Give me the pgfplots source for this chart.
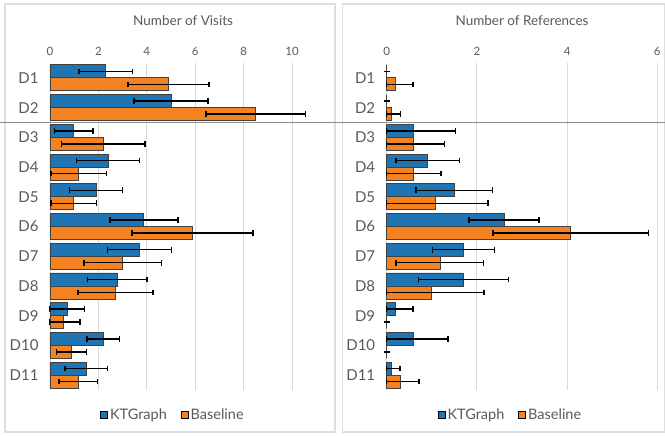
\documentclass[border=0pt]{standalone}
\usepackage{pgfplots}
\pgfplotsset{compat=1.18}
\usepackage{pgfplotstable}
\usepackage{fontspec}
\setmainfont{Lato}
\definecolor{ktblue}{RGB}{31,117,180}
\definecolor{blorange}{RGB}{245,130,32}
\definecolor{txtgray}{RGB}{89,89,89}
\definecolor{gridgray}{RGB}{217,217,217}
\definecolor{framegray}{RGB}{222,222,222}
\definecolor{sepgray}{RGB}{140,140,140}

% cat, KTGraph value, +err, -err, Baseline value, +err, -err
\pgfplotstableread{
cat kt ktep ktem bl blep blem
0 2.30 1.10 1.10 4.90 1.68 1.68
1 5.00 1.52 1.52 8.50 2.05 2.05
2 0.98 0.79 0.79 2.20 1.72 1.72
3 2.40 1.30 1.30 1.17 1.17 1.13
4 1.90 1.10 1.10 0.98 0.95 0.94
5 3.88 1.40 1.40 5.88 2.50 2.50
6 3.70 1.33 1.33 3.00 1.60 1.60
7 2.78 1.23 1.23 2.70 1.55 1.55
8 0.70 0.73 0.73 0.56 0.68 0.58
9 2.20 0.68 0.68 0.88 0.62 0.62
10 1.50 0.87 0.87 1.17 0.80 0.80
}\visits

\pgfplotstableread{
cat kt ktep ktem bl blep blem
0 0.00 0.00 0.00 0.20 0.38 0.20
1 0.00 0.00 0.00 0.10 0.21 0.10
2 0.60 0.93 0.60 0.60 0.68 0.60
3 0.91 0.70 0.70 0.60 0.60 0.60
4 1.50 0.85 0.85 1.08 1.17 1.08
5 2.60 0.78 0.78 4.08 1.72 1.72
6 1.70 0.69 0.69 1.18 0.97 0.97
7 1.70 1.00 1.00 1.00 1.16 1.00
8 0.20 0.38 0.20 0.00 0.00 0.00
9 0.60 0.76 0.60 0.00 0.00 0.00
10 0.10 0.20 0.10 0.30 0.42 0.30
}\refs

\pgfplotsset{
  panel/.style={
    scale only axis,
    anchor=south west,
    height=327pt,
    xbar,
    bar width=13pt,
    y dir=reverse,
    ymin=-0.5, ymax=10.5,
    ytick={0,...,10},
    yticklabels={D1,D2,D3,D4,D5,D6,D7,D8,D9,D10,D11},
    yticklabel style={font=\fontsize{15}{15}\selectfont, text=txtgray, xshift=-8pt},
    xticklabel pos=upper,
    xticklabel style={font=\fontsize{11.5}{12}\selectfont, text=txtgray, yshift=4pt},
    /pgf/number format/assume math mode=true,
    xmajorgrids,
    grid style={gridgray, line width=0.8pt},
    axis line style={draw=none},
    major tick length=0pt,
    tick style={draw=none},
    clip=false,
    title style={font=\fontsize{13.5}{14}\selectfont, text=txtgray, at={(0.5,1)}, anchor=south, yshift=28pt},
    legend style={draw=none, fill=none, font=\fontsize{14.5}{15}\selectfont, text=txtgray,
      legend columns=2, anchor=center, /tikz/every even column/.append style={column sep=12pt}},
    legend image code/.code={\draw[#1, draw=black, line width=0.8pt] (0pt,-3.5pt) rectangle (7pt,3.5pt);},
    error bars/error bar style={black, line width=1.5pt},
    error bars/error mark options={black, line width=1.5pt, mark size=2.8pt, rotate=90},
  },
  ktbar/.style={fill=ktblue, draw=black!75, line width=0.8pt, bar shift=6.5pt},
  blbar/.style={fill=blorange, draw=black!75, line width=0.8pt, bar shift=-6.5pt},
}

\begin{document}
\begin{tikzpicture}
\useasboundingbox (0,0) rectangle (665pt,436pt);
\draw[framegray, line width=1.2pt] (5pt,4pt) rectangle (335pt,432pt);
\draw[framegray, line width=1.2pt] (342.3pt,4pt) rectangle (664.4pt,432pt);

\begin{axis}[panel, at={(50pt,46pt)}, width=266.2pt,
  xmin=0, xmax=11, xtick={0,2,...,10},
  title={Number of Visits},
  legend style={at={(0.462,-0.0765)}}]
\addplot[ktbar, error bars/.cd, x dir=both, x explicit]
  table[x=kt, y=cat, x error plus=ktep, x error minus=ktem] {\visits};
\addplot[blbar, error bars/.cd, x dir=both, x explicit]
  table[x=bl, y=cat, x error plus=blep, x error minus=blem] {\visits};
\legend{KTGraph, Baseline}
\end{axis}

\begin{axis}[panel, at={(386.7pt,46pt)}, width=270.6pt,
  xmin=0, xmax=6, xtick={0,2,4,6},
  title={Number of References},
  legend style={at={(0.4575,-0.0765)}}]
\addplot[ktbar, error bars/.cd, x dir=both, x explicit]
  table[x=kt, y=cat, x error plus=ktep, x error minus=ktem] {\refs};
\addplot[blbar, error bars/.cd, x dir=both, x explicit]
  table[x=bl, y=cat, x error plus=blep, x error minus=blem] {\refs};
\legend{KTGraph, Baseline}
\end{axis}

\draw[sepgray, line width=1.6pt] (0pt,313.3pt) -- (665pt,313.3pt);
\end{tikzpicture}
\end{document}
